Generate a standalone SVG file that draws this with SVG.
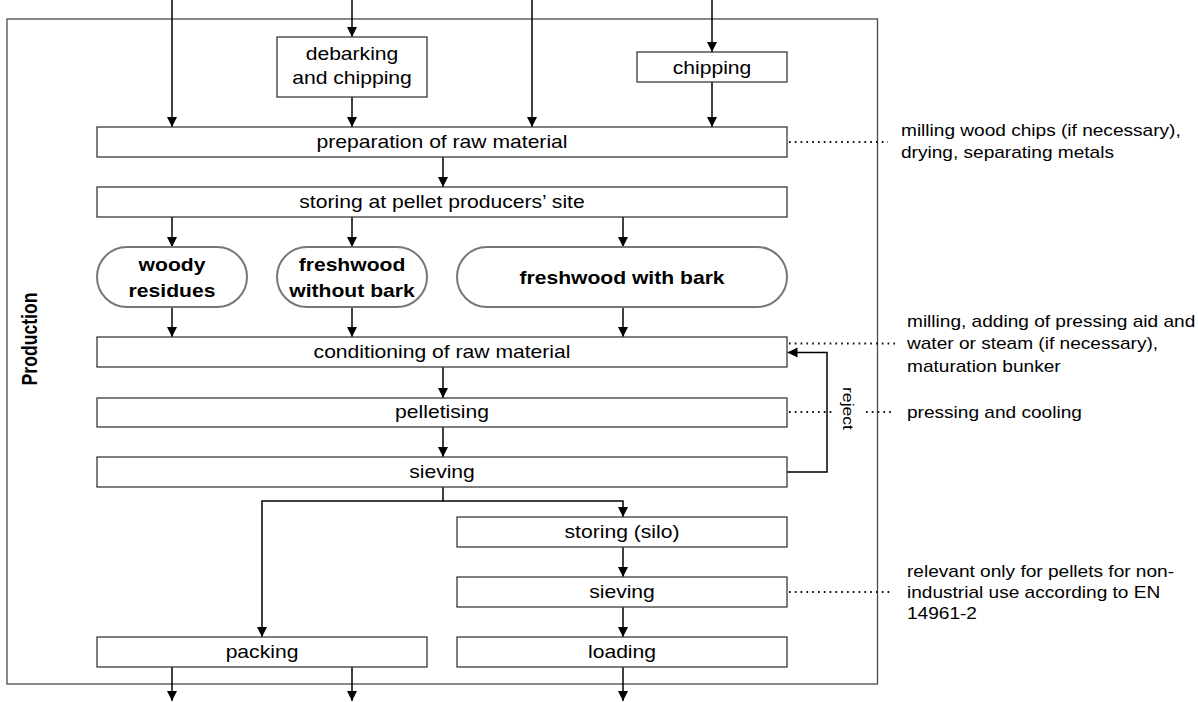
<svg xmlns="http://www.w3.org/2000/svg" width="1198" height="702" viewBox="0 0 1198 702">
  <style>
    .box { fill: #fff; stroke: #3a3a3a; stroke-width: 1.3; }
    .pill { fill: #fff; stroke: #777; stroke-width: 2; }
    .frame { fill: none; stroke: #4a4a4a; stroke-width: 1.3; }
    .t { font-family: "Liberation Sans", Arial, sans-serif; font-size: 17.6px; fill: #000; text-anchor: middle; }
    .b { font-weight: bold; }
    .note { font-family: "Liberation Sans", Arial, sans-serif; font-size: 15.9px; fill: #000; }
    .flow { fill: none; stroke: #000; stroke-width: 1.5; }
    .dots { fill: none; stroke: #111; stroke-width: 1.8; stroke-dasharray: 1.7 4.1; }
  </style>
  <defs>
    <marker id="arrow" markerUnits="userSpaceOnUse" markerWidth="11" markerHeight="11" refX="10" refY="5.5" orient="auto">
      <path d="M0,0.5 L10,5.5 L0,10.5 z" fill="#000"/>
    </marker>
  </defs>

  <rect width="1198" height="702" fill="#fff"/>

  <!-- production frame -->
  <rect id="frame" class="frame" x="7" y="19" width="870.5" height="665"/>
  <text class="t b" font-size="19.2" transform="translate(37,339) rotate(-90) scale(1,1.25)">Production</text>

  <!-- connectors -->
  <g id="connectors">
    <g class="flow" marker-end="url(#arrow)">
      <path d="M172,0 V127"/>
      <path d="M352,0 V37"/>
      <path d="M532,0 V127"/>
      <path d="M712,0 V52"/>
      <path d="M352,97 V127"/>
      <path d="M712,82 V127"/>
      <path d="M443,157 V187"/>
      <path d="M172,217 V247"/>
      <path d="M352,217 V247"/>
      <path d="M623,217 V247"/>
      <path d="M172,307 V337"/>
      <path d="M352,307 V337"/>
      <path d="M623,307 V337"/>
      <path d="M443,367 V398"/>
      <path d="M443,427 V457"/>
      <path d="M443,487 V501 H262 V637"/>
      <path d="M443,501 H623 V517"/>
      <path d="M623,547 V577"/>
      <path d="M623,607 V637"/>
      <path d="M172,667 V701"/>
      <path d="M352,667 V701"/>
      <path d="M623,667 V701"/>
      <path d="M787,472 H827 V352.5 H787.5"/>
    </g>
    <g class="dots">
      <path d="M789,142 H888"/>
      <path d="M789,343.5 H895"/>
      <path d="M789,412 H832"/>
      <path d="M866,412 H895"/>
      <path d="M789,592 H892"/>
    </g>
    <text class="t" font-size="19" transform="translate(843,408.5) rotate(90) scale(1,0.8)">reject</text>
  </g>

  <!-- process steps -->
  <g id="debarking">
    <rect class="box" x="277" y="37" width="150" height="60"/>
    <text class="t" transform="translate(352,59.5) scale(1.2,1)"><tspan x="0" y="0">debarking</tspan><tspan x="0" y="24.3">and chipping</tspan></text>
  </g>
  <g id="chipping">
    <rect class="box" x="637" y="52" width="150" height="30"/>
    <text class="t" transform="translate(712,73.5) scale(1.2,1)">chipping</text>
  </g>
  <g id="preparation">
    <rect class="box" x="97" y="127" width="690" height="30"/>
    <text class="t" transform="translate(442,147.5) scale(1.2,1)">preparation of raw material</text>
  </g>
  <g id="storing-site">
    <rect class="box" x="97" y="187" width="690" height="30"/>
    <text class="t" transform="translate(442,207.5) scale(1.2,1)">storing at pellet producers’ site</text>
  </g>

  <!-- raw material types -->
  <g id="woody-residues">
    <rect class="pill" x="97" y="247" width="150" height="60" rx="30" ry="30"/>
    <text class="t b" transform="translate(172,271) scale(1.2,1)"><tspan x="0" y="0">woody</tspan><tspan x="0" y="26">residues</tspan></text>
  </g>
  <g id="freshwood-without-bark">
    <rect class="pill" x="277" y="247" width="150" height="60" rx="30" ry="30"/>
    <text class="t b" transform="translate(352,271) scale(1.2,1)"><tspan x="0" y="0">freshwood</tspan><tspan x="0" y="26">without bark</tspan></text>
  </g>
  <g id="freshwood-with-bark">
    <rect class="pill" x="457" y="247" width="330" height="60" rx="30" ry="30"/>
    <text class="t b" transform="translate(622,284) scale(1.2,1)">freshwood with bark</text>
  </g>

  <g id="conditioning">
    <rect class="box" x="97" y="337" width="690" height="30"/>
    <text class="t" transform="translate(442,357.5) scale(1.2,1)">conditioning of raw material</text>
  </g>
  <g id="pelletising">
    <rect class="box" x="97" y="398" width="690" height="29"/>
    <text class="t" transform="translate(442,418) scale(1.2,1)">pelletising</text>
  </g>
  <g id="sieving">
    <rect class="box" x="97" y="457" width="690" height="30"/>
    <text class="t" transform="translate(442,477.5) scale(1.2,1)">sieving</text>
  </g>
  <g id="storing-silo">
    <rect class="box" x="457" y="517" width="330" height="30"/>
    <text class="t" transform="translate(622,537.5) scale(1.2,1)">storing (silo)</text>
  </g>
  <g id="sieving-2">
    <rect class="box" x="457" y="577" width="330" height="30"/>
    <text class="t" transform="translate(622,597.5) scale(1.2,1)">sieving</text>
  </g>
  <g id="packing">
    <rect class="box" x="97" y="637" width="330" height="30"/>
    <text class="t" transform="translate(262,657.5) scale(1.2,1)">packing</text>
  </g>
  <g id="loading">
    <rect class="box" x="457" y="637" width="330" height="30"/>
    <text class="t" transform="translate(622,657.5) scale(1.2,1)">loading</text>
  </g>

  <!-- side notes -->
  <g id="note-preparation">
    <text class="note" transform="translate(901,136) scale(1.2,1)"><tspan x="0" y="0">milling wood chips (if necessary),</tspan><tspan x="0" y="22.5">drying, separating metals</tspan></text>
  </g>
  <g id="note-conditioning">
    <text class="note" transform="translate(907,327) scale(1.2,1)"><tspan x="0" y="0">milling, adding of pressing aid and</tspan><tspan x="0" y="22.5">water or steam (if necessary),</tspan><tspan x="0" y="45">maturation bunker</tspan></text>
  </g>
  <g id="note-pelletising">
    <text class="note" transform="translate(907,417.5) scale(1.2,1)">pressing and cooling</text>
  </g>
  <g id="note-sieving">
    <text class="note" transform="translate(907,577) scale(1.2,1)"><tspan x="0" y="0">relevant only for pellets for non-</tspan><tspan x="0" y="21">industrial use according to EN</tspan><tspan x="0" y="42">14961-2</tspan></text>
  </g>
</svg>
